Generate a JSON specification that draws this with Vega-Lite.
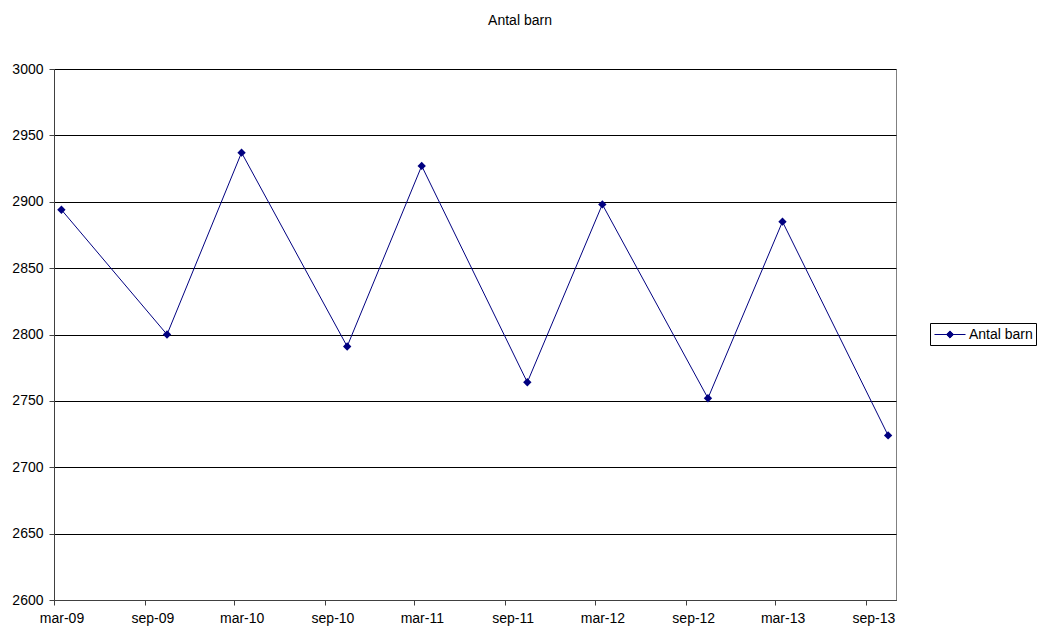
{
  "$schema": "https://vega.github.io/schema/vega-lite/v6.json",
  "autosize": "none",
  "width": 842,
  "height": 531,
  "padding": {"left": 54, "top": 69, "right": 143, "bottom": 28},
  "background": "white",
  "title": {"text": "Antal barn", "anchor": "middle", "dx": 45, "offset": 34, "fontSize": 14, "fontWeight": "normal", "font": "Liberation Sans", "color": "black"},
  "config": {
    "font": "Liberation Sans",
    "view": {"stroke": "#808080", "strokeWidth": 1}
  },
  "data": {"values": [
    {"date": "2009-03-16", "value": 2894, "series": "Antal barn"},
    {"date": "2009-10-16", "value": 2800, "series": "Antal barn"},
    {"date": "2010-03-16", "value": 2937, "series": "Antal barn"},
    {"date": "2010-10-16", "value": 2791, "series": "Antal barn"},
    {"date": "2011-03-16", "value": 2927, "series": "Antal barn"},
    {"date": "2011-10-16", "value": 2764, "series": "Antal barn"},
    {"date": "2012-03-16", "value": 2898, "series": "Antal barn"},
    {"date": "2012-10-16", "value": 2752, "series": "Antal barn"},
    {"date": "2013-03-16", "value": 2885, "series": "Antal barn"},
    {"date": "2013-10-16", "value": 2724, "series": "Antal barn"}
  ]},
  "mark": {"type": "line", "strokeWidth": 1, "point": {"shape": "diamond", "size": 70, "filled": true}},
  "encoding": {
    "x": {
      "field": "date", "type": "temporal",
      "scale": {"type": "utc", "domain": [{"year": 2009, "month": 3, "date": 1, "utc": true}, {"year": 2013, "month": 11, "date": 1, "utc": true}]},
      "axis": {
        "title": null,
        "values": [
          {"year": 2009, "month": 3, "date": 1, "utc": true},
          {"year": 2009, "month": 9, "date": 1, "utc": true},
          {"year": 2010, "month": 3, "date": 1, "utc": true},
          {"year": 2010, "month": 9, "date": 1, "utc": true},
          {"year": 2011, "month": 3, "date": 1, "utc": true},
          {"year": 2011, "month": 9, "date": 1, "utc": true},
          {"year": 2012, "month": 3, "date": 1, "utc": true},
          {"year": 2012, "month": 9, "date": 1, "utc": true},
          {"year": 2013, "month": 3, "date": 1, "utc": true},
          {"year": 2013, "month": 9, "date": 1, "utc": true}
        ],
        "labelExpr": "lower(utcFormat(datum.value, '%b-%y'))",
        "labelOffset": 7.5,
        "labelFontSize": 14,
        "labelColor": "black",
        "labelPadding": 6,
        "labelFlush": false,
        "labelOverlap": false,
        "grid": false,
        "domainColor": "#404040",
        "tickColor": "#404040",
        "tickSize": 5
      }
    },
    "y": {
      "field": "value", "type": "quantitative",
      "scale": {"domain": [2600, 3000], "nice": false, "zero": false},
      "axis": {
        "title": null,
        "format": "d",
        "values": [2600, 2650, 2700, 2750, 2800, 2850, 2900, 2950, 3000],
        "labelFontSize": 14,
        "labelColor": "black",
        "labelPadding": 6,
        "grid": true,
        "gridColor": "black",
        "gridOpacity": 1,
        "gridWidth": 1,
        "domainColor": "#404040",
        "tickColor": "#404040",
        "tickSize": 5
      }
    },
    "color": {
      "field": "series", "type": "nominal",
      "scale": {"range": ["#000080"]},
      "legend": {
        "title": null,
        "orient": "none",
        "legendX": 876,
        "legendY": 254,
        "strokeColor": "black",
        "padding": 3,
        "symbolType": "M-1.94,0L1.94,0M0,-0.45L0.45,0L0,0.45L-0.45,0Z",
        "symbolSize": 256,
        "symbolOffset": 8.5,
        "symbolStrokeWidth": 1,
        "symbolFillColor": "#000080",
        "labelFontSize": 14,
        "labelColor": "black",
        "labelOffset": 10.5
      }
    }
  }
}
